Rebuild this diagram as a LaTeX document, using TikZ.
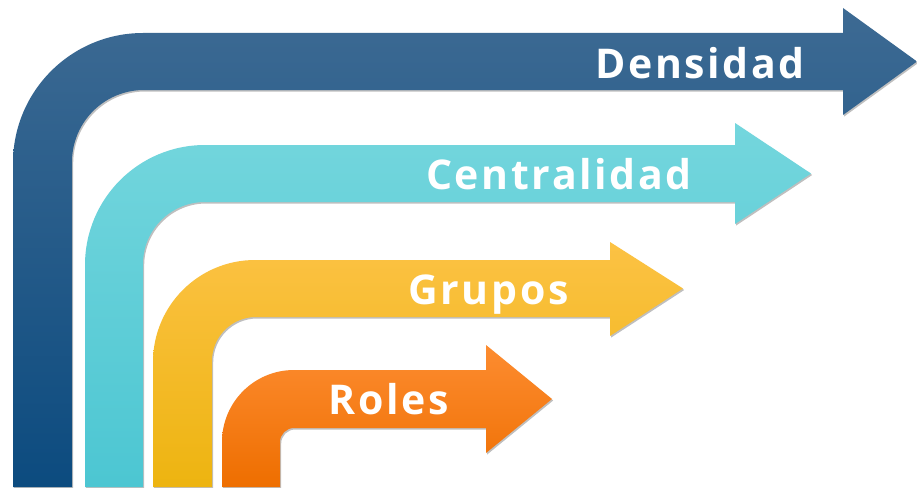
\documentclass[tikz,border=0pt]{standalone}
\usepackage{fontspec}
\setmainfont{Open Sans}[LetterSpace=6.5]
\usetikzlibrary{shadows}
\definecolor{bluetop}{HTML}{3D6A93}
\definecolor{bluebot}{HTML}{0C4B7F}
\definecolor{cyantop}{HTML}{74D6DD}
\definecolor{cyanbot}{HTML}{4CC6D2}
\definecolor{yeltop}{HTML}{FCC244}
\definecolor{yelbot}{HTML}{EDB410}
\definecolor{orntop}{HTML}{FD8C30}
\definecolor{ornbot}{HTML}{EE6E00}
\tikzset{
  bent/.style={shading=axis, shading angle=0,
    drop shadow={shadow xshift=1.2pt, shadow yshift=-1.5pt, opacity=0.25, fill=black}},
  lbl/.style={text=white, font=\fontsize{41}{41}\selectfont\bfseries, anchor=base, inner sep=0pt}
}
\begin{document}
\begin{tikzpicture}[x=1pt,y=-1pt]
\useasboundingbox[fill=white] (0,0) rectangle (917,487);
% Densidad
\path[bent, top color=bluetop, bottom color=bluebot]
  (13,487) -- (13,163) .. controls (13,91.2) and (71.2,33) .. (143,33)
  -- (843,33) -- (843,8) -- (917,61.5) -- (843,115) -- (843,90)
  -- (144,90) .. controls (104.2,90) and (72,122.2) .. (72,162)
  -- (72,487) -- cycle;
% Centralidad
\path[bent, top color=cyantop, bottom color=cyanbot]
  (85,487) -- (85,265) .. controls (85,198.7) and (138.7,145) .. (205,145)
  -- (735,145) -- (735,123) -- (811,173.5) -- (735,224) -- (735,202)
  -- (205,202) .. controls (170.8,202) and (143,229.8) .. (143,264)
  -- (143,487) -- cycle;
% Grupos
\path[bent, top color=yeltop, bottom color=yelbot]
  (153,487) -- (153,362) .. controls (153,305.7) and (198.7,260) .. (255,260)
  -- (610,260) -- (610,242) -- (683,288.5) -- (610,336) -- (610,317)
  -- (256,317) .. controls (231.7,317) and (212,336.7) .. (212,361)
  -- (212,487) -- cycle;
% Roles
\path[bent, top color=orntop, bottom color=ornbot]
  (222,487) -- (222,442) .. controls (222,402.2) and (254.2,370) .. (294,370)
  -- (486,370) -- (486,345) -- (552,399) -- (486,453) -- (486,428)
  -- (294,428) .. controls (286.3,428) and (280,434.3) .. (280,442)
  -- (280,487) -- cycle;
\node[lbl] (densidad) at (700,78) {Densidad};
\node[lbl] (centralidad) at (559,189.5) {Centralidad};
\node[lbl] (grupos) at (488.5,304) {Grupos};
\node[lbl] (roles) at (389,414.5) {Roles};
\end{tikzpicture}
\end{document}
